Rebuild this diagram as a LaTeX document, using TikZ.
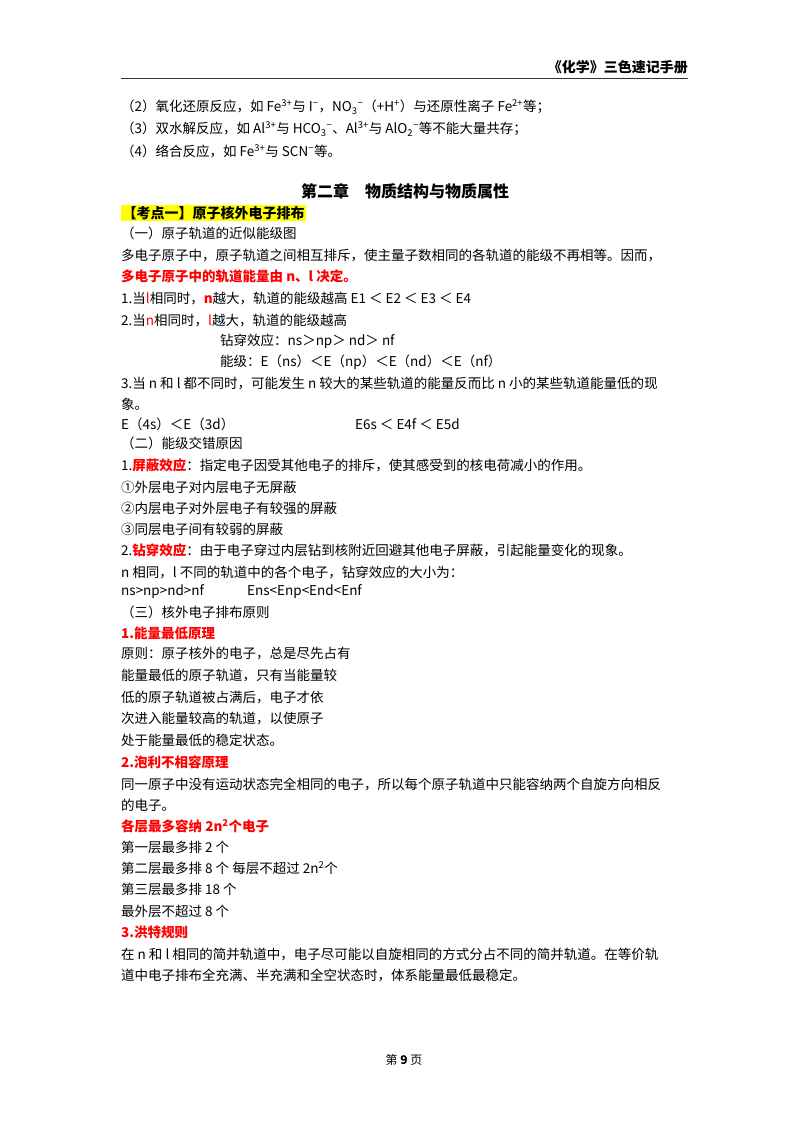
\documentclass[tikz,border=0pt]{standalone}
\usepackage{fontspec}
\setmainfont{Noto Sans CJK SC}
\definecolor{rd}{HTML}{FF0000}
\definecolor{hl}{HTML}{FFFF00}
\newcommand{\sps}[1]{\textsuperscript{#1}}
\newcommand{\sbs}[1]{\textsubscript{#1}}
\begin{document}
\begin{tikzpicture}[x=1pt,y=-1pt,
  t/.style={anchor=west,inner sep=0pt,font=\fontsize{13.5}{14}\selectfont},
  rb/.style={t,text=rd,font=\fontsize{13.5}{14}\selectfont\bfseries},
  r/.style={text=rd}]
\useasboundingbox (0,0) rectangle (800,1132);
\fill[white] (0,0) rectangle (800,1132);
\node[anchor=east,inner sep=0pt,font=\fontsize{14}{15}\selectfont\bfseries] (hd) at (688,67) {《化学》三色速记手册};
\coordinate (l1) at (121,78); \coordinate (l2) at (688,78);
\draw[line width=0.8pt,black!80] (l1) -- (l2);
\node[t] (a2) at (121,107) {（2）氧化还原反应，如 Fe\sps{3+}与 I\sps{−}，NO\sbs{3}\sps{−}（+H\sps{+}）与还原性离子 Fe\sps{2+}等；};
\node[t] (a3) at (121,129) {（3）双水解反应，如 Al\sps{3+}与 HCO\sbs{3}\sps{−}、Al\sps{3+}与 AlO\sbs{2}\sps{−}等不能大量共存；};
\node[t] (a4) at (121,151) {（4）络合反应，如 Fe\sps{3+}与 SCN\sps{−}等。};
\node[inner sep=0pt,font=\fontsize{16}{17}\selectfont\bfseries] (ch) at (405,191) {第二章\quad 物质结构与物质属性};
\node[t,fill=hl,inner sep=1.5pt,font=\fontsize{14}{15}\selectfont\bfseries] (k1) at (121,213) {【考点一】原子核外电子排布};
\node[t] (b1) at (121,233) {（一）原子轨道的近似能级图};
\node[t] (b2) at (121,255) {多电子原子中，原子轨道之间相互排斥，使主量子数相同的各轨道的能级不再相等。因而，};
\node[rb] (b3) at (121,276) {多电子原子中的轨道能量由 n、l 决定。};
\node[t] (b4) at (121,299) {1.当\textcolor{rd}{l}相同时，\textcolor{rd}{\bfseries n}越大，轨道的能级越高 E1 ＜ E2 ＜ E3 ＜ E4};
\node[t] (b5) at (121,321) {2.当\textcolor{rd}{n}相同时，\textcolor{rd}{l}越大，轨道的能级越高};
\node[t] (b6) at (220,341) {钻穿效应：ns＞np＞ nd＞ nf};
\node[t] (b7) at (220,362) {能级：E（ns）＜E（np）＜E（nd）＜E（nf）};
\node[t] (b8) at (121,384) {3.当 n 和 l 都不同时，可能发生 n 较大的某些轨道的能量反而比 n 小的某些轨道能量低的现};
\node[t] (b9) at (121,404) {象。};
\node[t] (b10) at (121,424) {E（4s）＜E（3d）};
\node[t] (b11) at (355,424) {E6s ＜ E4f ＜ E5d};
\node[t] (c1) at (121,443) {（二）能级交错原因};
\node[t] (c2) at (121,465) {1.\textcolor{rd}{\bfseries 屏蔽效应}：指定电子因受其他电子的排斥，使其感受到的核电荷减小的作用。};
\node[t] (c3) at (121,487) {①外层电子对内层电子无屏蔽};
\node[t] (c4) at (121,508) {②内层电子对外层电子有较强的屏蔽};
\node[t] (c5) at (121,529) {③同层电子间有较弱的屏蔽};
\node[t] (c6) at (121,550) {2.\textcolor{rd}{\bfseries 钻穿效应}：由于电子穿过内层钻到核附近回避其他电子屏蔽，引起能量变化的现象。};
\node[t] (c7) at (121,572) {n 相同，l 不同的轨道中的各个电子，钻穿效应的大小为：};
\node[t] (c8) at (121,592) {ns>np>nd>nf};
\node[t] (c9) at (247,592) {Ens<Enp<End<Enf};
\node[t] (d1) at (121,612) {（三）核外电子排布原则};
\node[rb] (d2) at (121,633) {1.能量最低原理};
\node[t] (d3) at (121,654) {原则：原子核外的电子，总是尽先占有};
\node[t] (d4) at (121,676) {能量最低的原子轨道，只有当能量较};
\node[t] (d5) at (121,698) {低的原子轨道被占满后，电子才依};
\node[t] (d6) at (121,719) {次进入能量较高的轨道，以使原子};
\node[t] (d7) at (121,740) {处于能量最低的稳定状态。};
\node[rb] (e1) at (121,762) {2.泡利不相容原理};
\node[t] (e2) at (121,784) {同一原子中没有运动状态完全相同的电子，所以每个原子轨道中只能容纳两个自旋方向相反};
\node[t] (e3) at (121,805) {的电子。};
\node[rb] (e4) at (121,826) {各层最多容纳 2n\sps{2}个电子};
\node[t] (e5) at (121,847) {第一层最多排 2 个};
\node[t] (e6) at (121,868) {第二层最多排 8 个  每层不超过 2n\sps{2}个};
\node[t] (e7) at (121,889) {第三层最多排 18 个};
\node[t] (e8) at (121,911) {最外层不超过 8 个};
\node[rb] (f1) at (121,932) {3.洪特规则};
\node[t] (f2) at (121,954) {在 n 和 l 相同的简并轨道中，电子尽可能以自旋相同的方式分占不同的简并轨道。在等价轨};
\node[t] (f3) at (121,975) {道中电子排布全充满、半充满和全空状态时，体系能量最低最稳定。};
\node[inner sep=0pt,font=\fontsize{12}{13}\selectfont] (pg) at (404,1060) {第 \textbf{9} 页};
\end{tikzpicture}
\end{document}
